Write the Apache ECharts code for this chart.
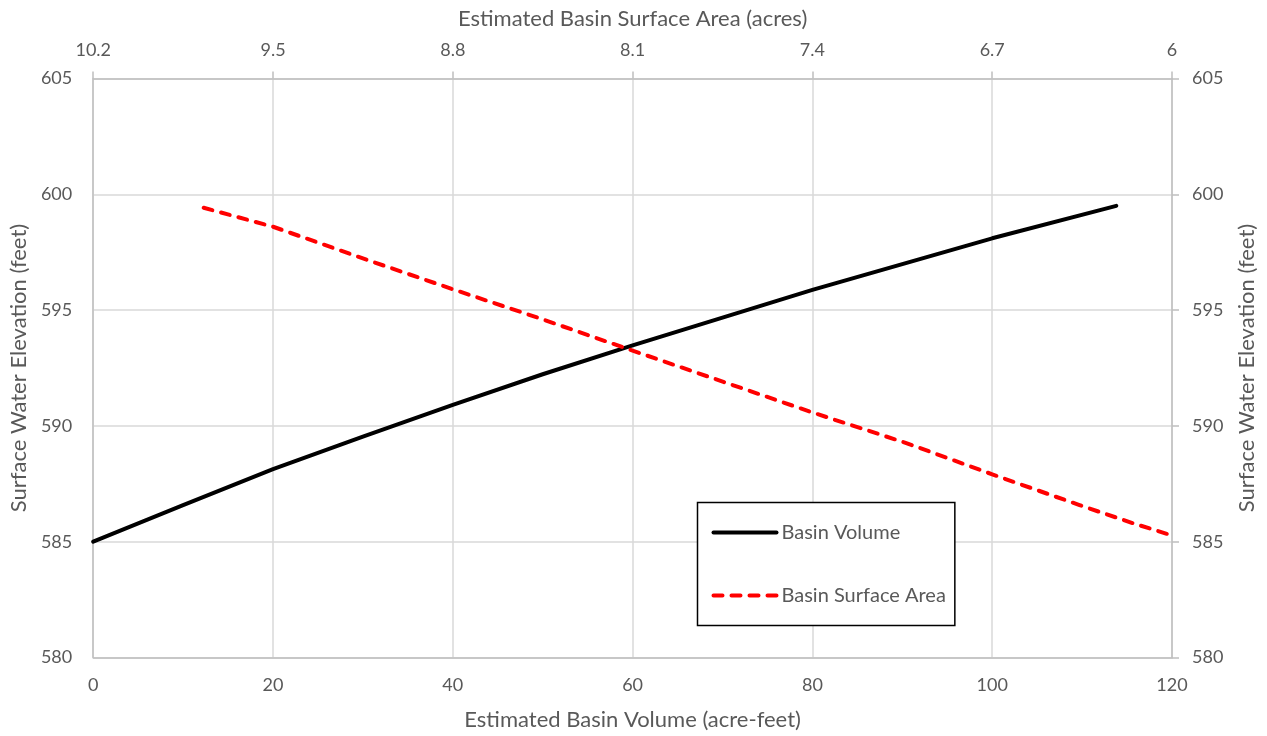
<!DOCTYPE html>
<html>
<head>
<meta charset="utf-8">
<script src="https://cdn.jsdelivr.net/npm/echarts@6/dist/echarts.min.js"></script>
<style>
html,body{margin:0;padding:0;background:#fff;}
#chart{width:1267px;height:736px;}
</style>
</head>
<body>
<div id="chart"></div>
<script>
// Basin Volume: volume (acre-feet) vs elevation (feet)
const volumeVolumes = [0, 10, 20, 30, 40, 50, 60, 80, 100, 113.8];
const volumeElevations = [585, 586.58, 588.13, 589.54, 590.91, 592.23, 593.48, 595.87, 598.1, 599.5];
// Basin Surface Area: area (acres) vs elevation (feet)
const areaAcres = [9.77, 9.5, 9.15, 8.8, 8.45, 8.1, 7.4, 7.04, 6.7, 6.36, 6.15, 6.0];
const areaElevations = [599.42, 598.6, 597.23, 595.9, 594.6, 593.25, 590.58, 589.28, 587.91, 586.58, 585.79, 585.27];

const bottomTicks = {min: 0, max: 120, interval: 20};
const topTicks = {min: 6, max: 10.2, interval: 0.7};
const yTicks = {min: 580, max: 605, interval: 5};

const volumeData = volumeVolumes.map((v, i) => [v, volumeElevations[i]]);
const areaData = areaAcres.map((v, i) => [v, areaElevations[i]]);

const FONT = 'Lato';
const TXT = '#595959';
const AXIS = '#bfbfbf';
const GRID = '#d9d9d9';
const NAME_SIZE = 22;
const LABEL_SIZE = 18;

const chart = echarts.init(document.getElementById('chart'));
chart.setOption({
  backgroundColor: '#ffffff',
  animation: false,
  textStyle: {fontFamily: FONT},
  grid: {left: 93, right: 95, top: 78.5, bottom: 78.5, containLabel: false},
  legend: {
    orient: 'vertical',
    left: 697.5,
    top: 502.5,
    padding: [20, 9, 20, 14],
    itemGap: 43,
    itemWidth: 63,
    itemHeight: 14,
    borderColor: '#000000',
    borderWidth: 1.5,
    backgroundColor: '#ffffff',
    itemStyle: {opacity: 0},
    lineStyle: {width: 4},
    textStyle: {fontFamily: FONT, fontSize: 20, color: TXT},
    data: ['Basin Volume', 'Basin Surface Area']
  },
  xAxis: [
    {
      type: 'value', position: 'bottom',
      min: bottomTicks.min, max: bottomTicks.max, interval: bottomTicks.interval,
      name: 'Estimated Basin Volume (acre-feet)', nameLocation: 'middle', nameGap: 51,
      nameTextStyle: {fontFamily: FONT, fontSize: NAME_SIZE, color: TXT},
      axisLine: {show: true, lineStyle: {color: AXIS, width: 1.5}},
      axisTick: {show: false},
      axisLabel: {fontFamily: FONT, fontSize: LABEL_SIZE, color: TXT, margin: 19},
      splitLine: {show: true, lineStyle: {color: GRID, width: 1.5}}
    },
    {
      type: 'value', position: 'top', inverse: true,
      min: topTicks.min, max: topTicks.max, interval: topTicks.interval,
      name: 'Estimated Basin Surface Area (acres)', nameLocation: 'middle', nameGap: 49,
      nameTextStyle: {fontFamily: FONT, fontSize: NAME_SIZE, color: TXT},
      axisLine: {show: true, lineStyle: {color: AXIS, width: 1.5}},
      axisTick: {show: true, inside: false, length: 7, lineStyle: {color: AXIS, width: 1.5}},
      axisLabel: {fontFamily: FONT, fontSize: LABEL_SIZE, color: TXT, margin: 19,
        formatter: v => String(+(+v).toFixed(1))},
      splitLine: {show: false}
    }
  ],
  yAxis: [
    {
      type: 'value', position: 'left',
      min: yTicks.min, max: yTicks.max, interval: yTicks.interval,
      name: 'Surface Water Elevation (feet)', nameLocation: 'middle', nameGap: 62, nameRotate: 90,
      nameTextStyle: {fontFamily: FONT, fontSize: NAME_SIZE, color: TXT},
      axisLine: {show: true, lineStyle: {color: AXIS, width: 1.5}},
      axisTick: {show: false},
      axisLabel: {fontFamily: FONT, fontSize: LABEL_SIZE, color: TXT, margin: 21},
      splitLine: {show: true, lineStyle: {color: GRID, width: 1.5}}
    },
    {
      type: 'value', position: 'right',
      min: yTicks.min, max: yTicks.max, interval: yTicks.interval,
      name: 'Surface Water Elevation (feet)', nameLocation: 'middle', nameGap: 64, nameRotate: 90,
      nameTextStyle: {fontFamily: FONT, fontSize: NAME_SIZE, color: TXT},
      axisLine: {show: true, lineStyle: {color: AXIS, width: 1.5}},
      axisTick: {show: true, inside: false, length: 7, lineStyle: {color: AXIS, width: 1.5}},
      axisLabel: {fontFamily: FONT, fontSize: LABEL_SIZE, color: TXT, margin: 20},
      splitLine: {show: false}
    }
  ],
  series: [
    {
      name: 'Basin Volume', type: 'line', xAxisIndex: 0, yAxisIndex: 0,
      data: volumeData, showSymbol: false, symbol: 'none',
      lineStyle: {color: '#000000', width: 4, cap: 'round', join: 'round'},
      itemStyle: {color: '#000000'}
    },
    {
      name: 'Basin Surface Area', type: 'line', xAxisIndex: 1, yAxisIndex: 0,
      data: areaData, showSymbol: false, symbol: 'none',
      lineStyle: {color: '#ff0000', width: 4, type: [9, 9], cap: 'round', join: 'round'},
      itemStyle: {color: '#ff0000'}
    }
  ]
});
</script>
</body>
</html>
